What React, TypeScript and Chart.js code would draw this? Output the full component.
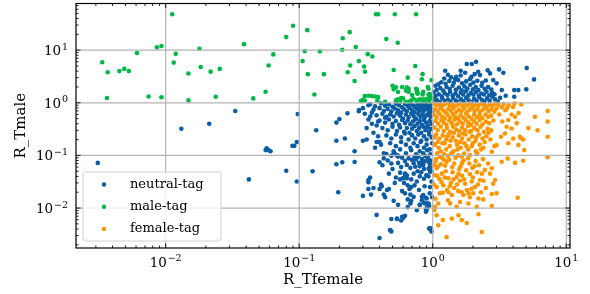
import { useEffect, useRef } from 'react';
import { Chart, registerables } from 'chart.js';

Chart.register(...registerables);

const xTickValues = [0.01, 0.1, 1, 10];
const xTickExponents = ['−2', '−1', '0', '1'];
const yTickValues = [0.01, 0.1, 1, 10];
const yTickExponents = ['−2', '−1', '0', '1'];
const xRange = [0.00213, 10.67];
const yRange = [0.00174, 77];
const xTitle = 'R_Tfemale';
const yTitle = 'R_Tmale';
const seriesNames = ['neutral-tag', 'male-tag', 'female-tag'];
const seriesColors = ['#0C5DA5', '#00B945', '#FF9500'];

const neutralTag: [number, number][] = [
  [0.0031,0.072],[0.0131,0.32],[0.0212,0.40],[0.0332,0.70],[0.042,0.035],[0.056,0.126],[0.057,0.136],[0.059,0.126],[0.061,0.12],[0.080,0.051],[0.089,0.152],[0.092,0.152],[0.096,0.18],[0.096,0.032],[0.0975,0.61],[0.126,0.050],[0.134,0.30],[0.19,0.42],[0.20,0.49],[0.19,0.19],[0.22,0.21],[0.19,0.068],[0.21,0.074],[0.196,0.020],[0.23,0.63],[0.26,0.12],[0.26,0.075],[0.28,0.69],[0.30,0.79],[0.33,0.90],[0.30,0.19],[0.32,0.20],[0.38,0.18],[0.40,0.18],[0.28,0.73],
  [0.30,0.017],[0.345,0.018],[0.33,0.023],[0.36,0.024],[0.33,0.034],[0.34,0.038],[0.33,0.031],[0.40,0.074],[0.43,0.088],[0.45,0.106],[0.49,0.098],[0.52,0.107],[0.55,0.098],[0.49,0.070],[0.41,0.028],[0.415,0.026],[0.40,0.023],[0.43,0.018],[0.44,0.016],[0.455,0.022],[0.47,0.023],[0.51,0.0137],[0.55,0.0115],[0.65,0.0104],[0.69,0.0137],[0.76,0.0091],[0.80,0.0114],[0.53,0.038],[0.57,0.047],[0.62,0.044],[0.64,0.037],[0.69,0.035],[0.61,0.030],[0.65,0.027],[0.69,0.025],[0.59,0.021],[0.62,0.019],[0.67,0.023],[0.68,0.018],[0.65,0.0146],[0.68,0.0122],[0.72,0.0163],[0.75,0.084],[0.80,0.040],[0.85,0.066],[0.90,0.042],[0.955,0.063],[0.945,0.074],[0.79,0.072],[0.83,0.0163],[0.89,0.0156],[0.93,0.0122],[0.86,0.0126],[0.80,0.0117],[0.91,0.0103],[0.89,0.0085],[0.85,0.0176],[0.38,0.0074],[0.49,0.0062],[0.54,0.0062],[0.58,0.0058],[0.60,0.0065],[0.62,0.0071],[0.49,0.0036],[0.40,0.0027],[0.955,0.0040],[0.98,0.0036],[0.955,0.081],[0.95,0.070],[0.955,0.025],[0.98,0.032],
  [0.51,0.109],[0.54,0.10],[0.62,0.045],[0.64,0.042],[0.60,0.037],[0.83,0.0141],[0.875,0.0122],[0.90,0.0092],[0.955,0.049],[0.94,0.0041],[0.94,0.076],[0.93,0.056],[0.90,0.042],[0.90,0.0152],[0.92,0.0122],[0.94,0.0109],[0.89,0.0094],[0.97,0.0041],[0.48,0.0038],[0.59,0.0068],[0.54,0.0063],
  [0.42,0.065],[0.46,0.08],[0.5,0.055],[0.55,0.072],[0.59,0.09],[0.64,0.066],[0.7,0.082],[0.74,0.061],[0.78,0.095],[0.83,0.072],[0.88,0.078],[0.92,0.09],[0.97,0.06],[0.47,0.045],[0.52,0.03],[0.57,0.035],[0.72,0.045],[0.76,0.032],[0.82,0.048],[0.86,0.036],[0.93,0.04],[0.98,0.05],[0.73,0.027],[0.79,0.022],[0.87,0.026],[0.95,0.019],[0.99,0.016],
  [0.34,0.95],[0.37,0.86],[0.41,0.97],[0.44,0.88],[0.47,0.93],[0.5,0.84],[0.53,0.96],[0.56,0.9],[0.59,0.82],[0.62,0.95],[0.65,0.87],[0.68,0.98],[0.71,0.9],[0.74,0.83],[0.77,0.94],[0.8,0.88],[0.83,0.97],[0.86,0.85],[0.89,0.92],[0.92,0.98],[0.95,0.87],[0.98,0.93],
  [0.36,0.74],[0.4,0.79],[0.43,0.7],[0.46,0.76],[0.49,0.68],[0.52,0.78],[0.55,0.72],[0.58,0.65],[0.61,0.75],[0.64,0.69],[0.67,0.8],[0.7,0.73],[0.73,0.66],[0.76,0.77],[0.79,0.7],[0.82,0.79],[0.85,0.68],[0.88,0.75],[0.91,0.81],[0.94,0.71],[0.97,0.77],[0.99,0.67],
  [0.38,0.58],[0.42,0.62],[0.45,0.54],[0.48,0.6],[0.51,0.55],[0.54,0.63],[0.57,0.57],[0.6,0.5],[0.63,0.6],[0.66,0.53],[0.69,0.62],[0.72,0.56],[0.75,0.5],[0.78,0.61],[0.81,0.54],[0.84,0.6],[0.87,0.52],[0.9,0.58],[0.93,0.63],[0.96,0.54],[0.99,0.59],
  [0.4,0.46],[0.44,0.42],[0.47,0.48],[0.5,0.4],[0.53,0.45],[0.56,0.38],[0.59,0.47],[0.62,0.41],[0.65,0.46],[0.68,0.39],[0.71,0.44],[0.74,0.48],[0.77,0.4],[0.8,0.45],[0.83,0.38],[0.86,0.47],[0.89,0.42],[0.92,0.37],[0.95,0.45],[0.98,0.4],
  [0.42,0.33],[0.46,0.3],[0.5,0.35],[0.54,0.29],[0.57,0.34],[0.61,0.28],[0.64,0.33],[0.67,0.27],[0.7,0.32],[0.73,0.36],[0.76,0.29],[0.79,0.33],[0.82,0.27],[0.85,0.35],[0.88,0.3],[0.91,0.34],[0.94,0.28],[0.97,0.32],
  [0.45,0.24],[0.49,0.21],[0.53,0.25],[0.58,0.22],[0.62,0.26],[0.66,0.2],[0.7,0.24],[0.74,0.21],[0.78,0.25],[0.82,0.19],[0.86,0.23],[0.9,0.2],[0.94,0.25],[0.98,0.22],
  [0.48,0.17],[0.53,0.15],[0.58,0.18],[0.63,0.16],[0.68,0.14],[0.72,0.17],[0.77,0.15],[0.81,0.18],[0.86,0.14],[0.9,0.16],[0.95,0.13],[0.99,0.17],
  [0.51,0.12],[0.57,0.13],[0.63,0.11],[0.69,0.125],[0.75,0.105],[0.8,0.12],[0.85,0.11],[0.91,0.125],[0.96,0.105],
  [0.55,0.095],[0.66,0.088],[0.73,0.093],[0.83,0.085],[0.88,0.097],[0.62,0.078],[0.72,0.071],[0.8,0.062],[0.86,0.055],[0.68,0.058],[0.77,0.05],[0.58,0.06],
  [0.31,0.62],[0.33,0.48],[0.35,0.4],[0.32,0.33],[0.36,0.27],[0.38,0.37],[0.34,0.55],[0.39,0.23],[0.41,0.16],[0.37,0.14],[0.43,0.11],[0.35,0.65],[0.39,0.44],[0.44,0.52],
  [1.24,4.06],[1.37,3.04],[1.47,2.82],[1.62,4.06],[1.75,3.72],[1.80,5.44],[1.96,5.44],[2.11,6.0],[2.19,3.89],[2.26,3.36],[2.58,4.13],[2.69,3.62],[3.14,4.31],[3.38,3.72],[5.06,4.57],[5.74,2.78],[4.38,1.74],[4.08,1.74],[5.02,1.80],[4.08,1.30],[3.52,1.36],[3.29,1.74],[3.01,2.34],[2.84,2.70],
  [1.03,1.05],[1.08,1.12],[1.13,1.03],[1.18,1.2],[1.24,1.08],[1.3,1.15],[1.36,1.04],[1.42,1.22],[1.49,1.1],[1.56,1.02],[1.63,1.17],[1.7,1.07],[1.78,1.25],[1.86,1.12],[1.95,1.03],[2.04,1.19],[2.13,1.09],[2.23,1.27],[2.33,1.14],[2.44,1.05],[2.55,1.21],[2.67,1.1],[2.8,1.3],[2.93,1.16],[3.07,1.06],[3.2,1.24],
  [1.05,1.35],[1.11,1.45],[1.17,1.32],[1.23,1.52],[1.29,1.4],[1.35,1.6],[1.41,1.37],[1.48,1.5],[1.55,1.33],[1.62,1.56],[1.69,1.43],[1.77,1.65],[1.85,1.38],[1.93,1.54],[2.02,1.42],[2.11,1.6],[2.21,1.36],[2.31,1.5],[2.42,1.44],[2.53,1.63],[2.65,1.39],[2.78,1.55],[2.9,1.45],[1.02,1.6],
  [1.07,1.75],[1.14,1.9],[1.2,1.7],[1.27,2.0],[1.34,1.82],[1.41,2.1],[1.49,1.76],[1.57,1.95],[1.65,1.72],[1.73,2.05],[1.82,1.86],[1.91,2.2],[2.0,1.8],[2.1,1.98],[2.2,1.74],[2.32,2.1],[2.45,1.85],[2.6,2.0],[2.75,1.78],[1.1,2.25],
  [1.16,2.45],[1.25,2.3],[1.33,2.6],[1.44,2.4],[1.55,2.7],[1.66,2.35],[1.78,2.55],[1.9,2.8],[2.02,2.42],[2.16,2.62],[2.35,2.4],[2.5,2.65],[1.22,2.9],[1.5,3.1],[1.62,3.3],[1.95,3.1],[2.06,3.5],[1.3,3.4],[1.05,2.1],[1.03,1.25],
];

const maleTag: [number, number][] = [
  [0.0112,48],[0.0086,11.3],[0.0093,12],[0.0061,8.8],[0.0179,10.6],[0.0386,13],[0.0119,8.5],[0.00335,5.9],[0.00368,3.8],[0.0045,4.0],[0.0049,4.4],[0.0053,4.0],[0.0115,5.8],[0.0148,3.6],[0.0183,4.8],[0.0217,3.9],[0.0254,4.4],[0.00363,1.23],[0.00745,1.32],[0.0093,1.27],[0.0148,1.11],[0.0237,1.3],[0.0453,1.21],
  [0.09,29],[0.080,17.7],[0.115,24],[0.064,8.3],[0.059,5.1],[0.056,1.62],[0.110,9.6],[0.106,6.2],[0.116,3.5],[0.143,9.5],[0.153,3.5],[0.13,1.44],[0.239,22],[0.212,16.8],[0.21,10.2],[0.265,11.5],[0.326,8.4],[0.353,7.6],[0.28,6.2],[0.241,5.1],[0.306,4.9],[0.311,3.9],[0.231,3.8],[0.26,2.6],[0.376,48],[0.39,48],[0.52,48],[0.449,16.3],[0.547,13.8],[0.51,4.2],[0.50,2.1],[0.53,1.96],[0.55,1.6],[0.44,1.04],[0.39,1.28],[0.31,1.34],[0.33,1.36],[0.35,1.34],[0.29,1.08],[0.31,1.1],[0.385,1.09],[0.53,1.1],
  [0.75,48],[0.74,5.0],[0.84,3.5],[0.83,2.8],[0.65,3.0],[0.98,2.7],
  [0.59,2.0],[0.64,1.96],[0.75,1.85],[0.63,1.74],[0.66,1.62],[0.76,1.62],[0.85,1.62],[0.93,1.44],[0.955,1.3],[0.85,1.17],[0.69,1.12],[0.60,1.21],[0.54,1.12],[0.63,1.04],[0.77,1.12],[0.51,1.8],
  [0.66,1.85],[0.64,1.67],[0.76,1.8],[0.77,1.55],[0.92,1.99],[0.95,1.46],[0.84,1.44],[0.93,1.85],[0.37,1.32],[0.30,1.14],[0.55,1.17],[0.58,1.23],[0.67,1.06],[0.57,1.04],[0.72,1.19],[0.76,1.06],[0.80,1.16],[0.86,1.08],[0.91,1.19],[0.94,1.04],[0.96,1.19],[0.99,1.23],[0.70,1.40],[0.77,1.48],
];

const femaleTag: [number, number][] = [
  [1.02,0.97],[1.07,0.9],[1.12,0.95],[1.17,0.86],[1.22,0.93],[1.28,0.98],[1.34,0.88],[1.4,0.95],[1.46,0.85],[1.53,0.92],[1.6,0.97],[1.67,0.87],[1.75,0.94],[1.83,0.89],[1.91,0.98],[2.0,0.86],[2.1,0.93],[2.2,0.88],[2.3,0.96],[2.42,0.9],[2.55,0.85],[2.68,0.94],[2.82,0.89],[2.95,0.97],[3.1,0.92],[3.4,0.95],[3.7,0.9],[4.1,0.97],[4.6,0.93],
  [1.04,0.75],[1.09,0.68],[1.14,0.79],[1.2,0.71],[1.25,0.66],[1.31,0.77],[1.37,0.7],[1.43,0.8],[1.5,0.67],[1.57,0.74],[1.64,0.69],[1.72,0.78],[1.8,0.66],[1.88,0.73],[1.97,0.8],[2.06,0.7],[2.16,0.76],[2.26,0.67],[2.37,0.74],[2.5,0.79],[2.62,0.69],[2.76,0.76],[2.9,0.68],[3.5,0.72],
  [1.02,0.6],[1.07,0.53],[1.12,0.62],[1.18,0.55],[1.23,0.5],[1.29,0.59],[1.35,0.52],[1.42,0.61],[1.48,0.54],[1.55,0.5],[1.62,0.58],[1.7,0.52],[1.78,0.62],[1.86,0.55],[1.95,0.5],[2.04,0.6],[2.14,0.53],[2.24,0.58],[2.35,0.51],[2.48,0.6],[2.6,0.54],[2.74,0.57],[3.15,0.6],
  [1.05,0.45],[1.1,0.4],[1.16,0.47],[1.21,0.42],[1.27,0.38],[1.33,0.46],[1.39,0.41],[1.46,0.48],[1.52,0.39],[1.6,0.44],[1.68,0.4],[1.76,0.47],[1.85,0.42],[1.94,0.38],[2.03,0.45],[2.13,0.4],[2.24,0.47],[2.36,0.39],[2.5,0.44],[2.65,0.41],[2.85,0.46],
  [1.03,0.34],[1.09,0.3],[1.15,0.35],[1.21,0.29],[1.28,0.33],[1.35,0.28],[1.42,0.35],[1.5,0.31],[1.58,0.29],[1.66,0.34],[1.75,0.3],[1.84,0.36],[1.94,0.29],[2.05,0.33],[2.16,0.3],[2.28,0.35],[2.42,0.28],[2.58,0.32],[2.75,0.3],
  [1.06,0.25],[1.12,0.21],[1.19,0.24],[1.26,0.2],[1.33,0.26],[1.41,0.22],[1.49,0.19],[1.57,0.24],[1.66,0.21],[1.76,0.25],[1.86,0.2],[1.97,0.23],[2.09,0.19],[2.22,0.25],[2.36,0.21],[2.52,0.23],[2.7,0.2],
  [1.04,0.16],[1.11,0.14],[1.18,0.17],[1.26,0.13],[1.34,0.15],[1.43,0.12],[1.52,0.16],[1.62,0.14],[1.73,0.17],[1.84,0.13],[1.96,0.15],[2.1,0.12],[2.25,0.16],[2.4,0.14],
  [1.08,0.11],[1.22,0.105],[1.38,0.11],[1.55,0.1],[1.72,0.108],[1.9,0.102],[2.15,0.11],[1.3,0.098],[1.65,0.095],
  [1.03,0.22],[1.09,0.18],[1.15,0.12],[1.23,0.17],[1.29,0.23],[1.36,0.19],[1.44,0.27],[1.53,0.13],[1.61,0.18],[1.69,0.26],[1.79,0.15],[1.9,0.28],[2.0,0.17],[2.12,0.22],[2.3,0.13],[2.45,0.18],[2.62,0.27],[2.9,0.15],
  [1.05,0.077],[1.1,0.062],[1.18,0.088],[1.24,0.064],[1.33,0.083],[1.41,0.048],[1.48,0.09],[1.58,0.055],[1.66,0.072],[1.78,0.052],[1.84,0.088],[1.98,0.058],[2.1,0.078],[2.22,0.065],[2.38,0.085],[2.6,0.07],[2.68,0.045],
  [1.08,0.041],[1.16,0.031],[1.23,0.038],[1.34,0.026],[1.43,0.035],[1.52,0.028],[1.66,0.041],[1.72,0.035],[1.9,0.044],[2.0,0.038],[2.18,0.028],[2.4,0.033],[1.28,0.022],[1.55,0.021],[1.95,0.023],[2.3,0.02],
  [1.13,0.094],[1.27,0.076],[1.07,0.057],[1.04,0.042],[1.17,0.045],[1.31,0.037],[1.37,0.030],[1.51,0.039],[1.56,0.045],[1.75,0.029],[1.80,0.022],[1.96,0.032],[2.07,0.025],[2.26,0.034],[2.33,0.045],[2.46,0.053],[2.77,0.057],[2.93,0.034],[2.84,0.029],[3.29,0.076],[4.14,0.072],[4.76,0.079],[7.26,0.092],[3.64,0.087],[1.07,0.025],[1.13,0.019],[1.19,0.0195],[1.31,0.020],[1.39,0.0177],[1.65,0.020],[1.70,0.0177],[1.85,0.019],[2.01,0.019],[2.2,0.0152],[2.39,0.0146],[2.77,0.0184],[3.01,0.019],[4.33,0.0157],[1.10,0.0122],[1.35,0.0122],[1.51,0.0106],[1.85,0.0122],[2.14,0.0106],[2.77,0.0109],[1.07,0.0073],[1.19,0.0059],[1.39,0.0063],[1.56,0.0073],[1.65,0.0059],[1.80,0.0052],[2.2,0.0076],[1.10,0.0047],[1.27,0.0028],[2.33,0.0035],[1.03,0.0092],
  [1.02,0.065],[1.06,0.085],[1.15,0.068],[1.22,0.082],[1.4,0.06],[1.45,0.07],[1.62,0.062],[1.7,0.08],[1.88,0.07],[2.05,0.062],[2.15,0.048],[1.25,0.05],[1.6,0.033],[1.12,0.036],[1.02,0.028],[1.2,0.027],[1.45,0.024],[1.05,0.015],[1.3,0.014],[1.6,0.013],[1.9,0.016],[2.5,0.024],[1.04,0.0105],
  [3.29,0.82],[3.01,0.78],[3.9,0.60],[4.14,0.54],[3.68,0.47],[3.32,0.44],[3.58,0.35],[3.9,0.325],[4.26,0.41],[3.48,0.26],[3.25,0.226],[4.01,0.21],[4.5,0.226],[4.76,0.20],[5.83,0.54],[7.26,0.70],[7.26,0.44],[6.1,0.30],[7.26,0.226],[4.38,0.157],[3.68,0.17],[3.01,0.157],[2.77,0.117],[4.4,0.64],[4.0,0.83],[3.6,0.79],[5.2,0.33],[4.85,0.126],[4.6,0.21],
];

const series = [neutralTag, maleTag, femaleTag];

const BASE_FONT = '13.5px "DejaVu Serif"';
const SUP_FONT = '9.5px "DejaVu Serif"';

function drawPower(ctx: CanvasRenderingContext2D, exp: string, x: number, baseline: number, align: 'center' | 'right') {
  ctx.font = BASE_FONT;
  const wb = ctx.measureText('10').width;
  ctx.font = SUP_FONT;
  const ws = ctx.measureText(exp).width;
  const total = wb + 0.8 + ws;
  const start = align === 'center' ? x - total / 2 : x - total;
  ctx.textAlign = 'left';
  ctx.textBaseline = 'alphabetic';
  ctx.font = BASE_FONT;
  ctx.fillText('10', start, baseline);
  ctx.font = SUP_FONT;
  ctx.fillText(exp, start + wb + 0.8, baseline - 5.2);
}

const overlayPlugin = {
  id: 'overlay',
  afterDatasetsDraw(chart: any) {
    const { ctx, chartArea } = chart;
    const { left, right, top, bottom } = chartArea;
    const xs = chart.scales.x;
    const ys = chart.scales.y;
    ctx.save();
    ctx.strokeStyle = '#b4b4b4';
    ctx.lineWidth = 1.2;
    xTickValues.forEach((v) => {
      const p = xs.getPixelForValue(v);
      if (p < left || p > right) return;
      ctx.beginPath();
      ctx.moveTo(p, top);
      ctx.lineTo(p, bottom);
      ctx.stroke();
    });
    yTickValues.forEach((v) => {
      const p = ys.getPixelForValue(v);
      if (p < top || p > bottom) return;
      ctx.beginPath();
      ctx.moveTo(left, p);
      ctx.lineTo(right, p);
      ctx.stroke();
    });
    ctx.strokeStyle = '#000';
    ctx.lineWidth = 0.9;
    for (let d = -4; d <= 2; d++) {
      for (let m = 1; m <= 9; m++) {
        const v = m * Math.pow(10, d);
        const len = m === 1 ? 4.5 : 2.5;
        if (v >= xRange[0] && v <= xRange[1]) {
          const p = xs.getPixelForValue(v);
          ctx.beginPath();
          ctx.moveTo(p, bottom);
          ctx.lineTo(p, bottom - len);
          ctx.moveTo(p, top);
          ctx.lineTo(p, top + len);
          ctx.stroke();
        }
        if (v >= yRange[0] && v <= yRange[1]) {
          const p = ys.getPixelForValue(v);
          ctx.beginPath();
          ctx.moveTo(left, p);
          ctx.lineTo(left + len, p);
          ctx.moveTo(right, p);
          ctx.lineTo(right - len, p);
          ctx.stroke();
        }
      }
    }
    ctx.lineWidth = 1.2;
    ctx.strokeRect(left, top, right - left, bottom - top);
    ctx.restore();
  },
  afterDraw(chart: any) {
    const { ctx, chartArea } = chart;
    const { left, right, top, bottom } = chartArea;
    const xs = chart.scales.x;
    const ys = chart.scales.y;
    ctx.save();
    ctx.fillStyle = '#000';
    // tick labels
    xTickValues.forEach((v, i) => {
      drawPower(ctx, xTickExponents[i], xs.getPixelForValue(v), bottom + 18.5, 'center');
    });
    yTickValues.forEach((v, i) => {
      drawPower(ctx, yTickExponents[i], left - 8, ys.getPixelForValue(v) + 4.8, 'right');
    });
    // axis titles
    ctx.font = '15px "DejaVu Serif"';
    ctx.textAlign = 'center';
    ctx.textBaseline = 'middle';
    ctx.fillText(xTitle, (left + right) / 2, 280.5);
    ctx.save();
    ctx.translate(21, (top + bottom) / 2);
    ctx.rotate(-Math.PI / 2);
    ctx.fillText(yTitle, 0, 0);
    ctx.restore();
    // legend
    const bx = 83, by = 172, bw = 138, bh = 69, r = 3;
    ctx.beginPath();
    ctx.moveTo(bx + r, by);
    ctx.lineTo(bx + bw - r, by);
    ctx.arcTo(bx + bw, by, bx + bw, by + r, r);
    ctx.lineTo(bx + bw, by + bh - r);
    ctx.arcTo(bx + bw, by + bh, bx + bw - r, by + bh, r);
    ctx.lineTo(bx + r, by + bh);
    ctx.arcTo(bx, by + bh, bx, by + bh - r, r);
    ctx.lineTo(bx, by + r);
    ctx.arcTo(bx, by, bx + r, by, r);
    ctx.closePath();
    ctx.fillStyle = 'rgba(255,255,255,0.8)';
    ctx.fill();
    ctx.strokeStyle = '#d0d0d0';
    ctx.lineWidth = 1;
    ctx.stroke();
    ctx.font = '13px "DejaVu Serif"';
    ctx.textAlign = 'left';
    ctx.textBaseline = 'middle';
    seriesNames.forEach((name, i) => {
      const cy = 184.5 + i * 22.2;
      ctx.fillStyle = seriesColors[i];
      ctx.beginPath();
      ctx.arc(104, cy, 2.2, 0, Math.PI * 2);
      ctx.fill();
      ctx.fillStyle = '#000';
      ctx.fillText(name, 130, cy);
    });
    ctx.restore();
  },
};

export default function App() {
  const ref = useRef<HTMLCanvasElement>(null);
  useEffect(() => {
    document.body.style.margin = '0';
    const canvas = ref.current;
    if (!canvas) return;
    Chart.defaults.font.family = '"DejaVu Serif"';
    const chart = new Chart(canvas, {
      type: 'scatter',
      data: {
        datasets: series.map((pts, i) => ({
          label: seriesNames[i],
          data: pts.map(([x, y]) => ({ x, y })),
          backgroundColor: seriesColors[i],
          borderWidth: 0,
          pointRadius: 2.3,
          pointHoverRadius: 2.3,
          order: 3 - i,
        })),
      },
      options: {
        animation: false,
        responsive: false,
        devicePixelRatio: 1,
        layout: { padding: { top: 3.5, right: 20, left: 0, bottom: 0 } },
        plugins: { legend: { display: false }, tooltip: { enabled: false } },
        scales: {
          x: {
            type: 'logarithmic',
            position: 'bottom',
            min: xRange[0],
            max: xRange[1],
            afterBuildTicks: (s: any) => { s.ticks = xTickValues.map((v) => ({ value: v })); },
            afterFit: (s: any) => { s.height = 46; },
            grid: { display: false, drawTicks: false },
            border: { display: false },
            ticks: { display: false },
          },
          y: {
            type: 'logarithmic',
            position: 'left',
            min: yRange[0],
            max: yRange[1],
            afterBuildTicks: (s: any) => { s.ticks = yTickValues.map((v) => ({ value: v })); },
            afterFit: (s: any) => { s.width = 76; },
            grid: { display: false, drawTicks: false },
            border: { display: false },
            ticks: { display: false },
          },
        },
      },
      plugins: [overlayPlugin],
    });
    return () => chart.destroy();
  }, []);
  return (
    <div style={{ width: 590, height: 294 }}>
      <canvas ref={ref} width={590} height={294} style={{ display: 'block' }} />
    </div>
  );
}
